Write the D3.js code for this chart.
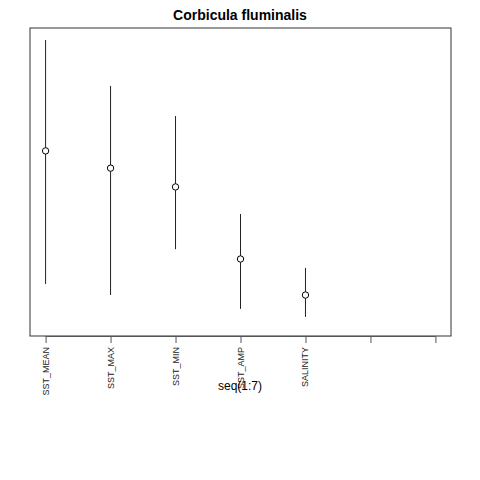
<!DOCTYPE html>
<html><head><meta charset="utf-8">
<script src="https://cdn.jsdelivr.net/npm/d3@7"></script>
<style>body{margin:0;background:#fff}</style>
</head><body>
<script>
// Data (relative units)
const categories = ['SST_MEAN', 'SST_MAX', 'SST_MIN', 'SST_AMP', 'SALINITY'];
const tickPositions = [1, 2, 3, 4, 5, 6, 7];
const means = [0.601, 0.545, 0.484, 0.250, 0.133];
const lower = [0.169, 0.133, 0.282, 0.088, 0.062];
const upper = [0.961, 0.812, 0.714, 0.396, 0.221];

const W = 480, H = 480;
const box = { left: 30, right: 451, top: 28, bottom: 336 };

const svg = d3.select('body').append('svg').attr('width', W).attr('height', H)
  .style('font-family', 'Liberation Sans, Arial, sans-serif');

const x = d3.scaleLinear().domain([0.76, 7.24]).range([box.left, box.right]);
const y = d3.scaleLinear().domain([0, 1]).range([box.bottom, box.top]);

svg.append('rect')
  .attr('x', box.left).attr('y', box.top)
  .attr('width', box.right - box.left).attr('height', box.bottom - box.top)
  .attr('fill', 'none').attr('stroke', '#333');

// error bars
svg.selectAll('line.bar').data(categories).join('line')
  .attr('class', 'bar')
  .attr('x1', (d, i) => x(i + 1)).attr('x2', (d, i) => x(i + 1))
  .attr('y1', (d, i) => y(lower[i])).attr('y2', (d, i) => y(upper[i]))
  .attr('stroke', '#222');

// points
svg.selectAll('circle').data(means).join('circle')
  .attr('cx', (d, i) => x(i + 1)).attr('cy', (d) => y(d))
  .attr('r', 3.2).attr('fill', '#fff').attr('stroke', '#000');

// x axis
const axis = d3.axisBottom(x).tickValues(tickPositions).tickSize(7).tickFormat('');
const g = svg.append('g').attr('transform', `translate(0,${box.bottom})`).call(axis);
g.select('.domain').attr('d', `M${x(1)},0.5H${x(7)}`).attr('stroke', '#555');
g.selectAll('.tick line').attr('stroke', '#555');

svg.selectAll('text.lab').data(categories).join('text')
  .attr('class', 'lab')
  .attr('transform', (d, i) => `translate(${x(i + 1) + 3},347) rotate(-90)`)
  .attr('text-anchor', 'end')
  .attr('font-size', 9).attr('fill', '#222')
  .text((d) => d);

svg.append('text').attr('x', 240).attr('y', 390).attr('text-anchor', 'middle')
  .attr('font-size', 12).text('seq(1:7)');

svg.append('text').attr('x', 240).attr('y', 20).attr('text-anchor', 'middle')
  .attr('font-size', 14).attr('font-weight', 'bold').text('Corbicula fluminalis');
</script>
</body></html>
